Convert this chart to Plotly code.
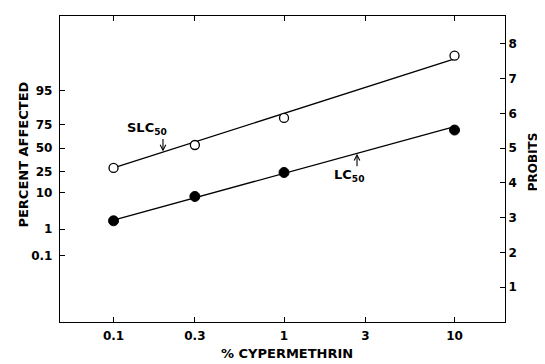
import math
from statistics import NormalDist
import plotly.graph_objects as go

# ---- data ----
conc = [0.1, 0.3, 1, 10]                      # % cypermethrin
slc_probit = [4.43, 5.09, 5.87, 7.66]         # SLC50 observations (open circles)
lc_probit = [2.91, 3.61, 4.30, 5.52]          # LC50 observations (filled circles)
fit_x = [0.1, 10]
slc_fit = [4.43, 7.57]
lc_fit = [2.93, 5.62]

x_ticks = [0.1, 0.3, 1, 3, 10]
x_ticktext = ["0.1", "0.3", "1", "3", "10"]
pct_ticks = [95, 75, 50, 25, 10, 1, 0.1]
pct_ticktext = ["95", "75", "50", "25", "10", "1", "0.1"]
probit_ticks = [1, 2, 3, 4, 5, 6, 7, 8]

pct_probit = [5 + NormalDist().inv_cdf(p / 100.0) for p in pct_ticks]

FONT = "DejaVu Sans"
tickfont = dict(family=FONT, size=12, color="black", weight="bold")

fig = go.Figure()
fig.add_trace(go.Scatter(x=fit_x, y=slc_fit, mode="lines",
                         line=dict(color="black", width=1.3), showlegend=False))
fig.add_trace(go.Scatter(x=fit_x, y=lc_fit, mode="lines",
                         line=dict(color="black", width=1.3), showlegend=False))
fig.add_trace(go.Scatter(x=conc, y=slc_probit, mode="markers",
                         marker=dict(symbol="circle", size=9, color="white",
                                     line=dict(color="black", width=1.3)),
                         showlegend=False))
fig.add_trace(go.Scatter(x=conc, y=lc_probit, mode="markers",
                         marker=dict(symbol="circle", size=10, color="black",
                                     line=dict(color="black", width=1)),
                         showlegend=False))
# invisible trace to activate the right-hand probit axis
fig.add_trace(go.Scatter(x=[conc[0]], y=[probit_ticks[0]], yaxis="y2", mode="markers",
                         marker=dict(opacity=0), showlegend=False, hoverinfo="skip"))

YR = [0, 8.8]
XR = [-1.314, 1.296]

# page body has an 8px margin: figure is shrunk/shifted to compensate
fig.update_layout(
    width=537, height=356,
    margin=dict(l=52, r=40, t=8, b=42),
    paper_bgcolor="white", plot_bgcolor="white",
    xaxis=dict(type="log", range=XR, tickvals=x_ticks, ticktext=x_ticktext,
               ticks="inside", ticklen=5, tickwidth=1, tickcolor="black",
               showline=True, linecolor="black", linewidth=1.4, mirror="ticks",
               showgrid=False, zeroline=False, tickfont=tickfont,
               ticklabelstandoff=2),
    yaxis=dict(range=YR, tickvals=pct_probit, ticktext=pct_ticktext,
               ticks="inside", ticklen=5, tickwidth=1, tickcolor="black",
               showline=True, linecolor="black", linewidth=1.4, mirror=True,
               showgrid=False, zeroline=False, tickfont=tickfont,
               ticklabelstandoff=4),
    yaxis2=dict(range=YR, overlaying="y", side="right", tickvals=probit_ticks,
                ticks="inside", ticklen=5, tickwidth=1, tickcolor="black",
                showline=True, linecolor="black", linewidth=1.4,
                showgrid=False, zeroline=False, tickfont=tickfont),
)

titlefont = dict(family=FONT, size=13, color="black", weight="bold")
probfont = dict(family=FONT, size=12, color="black", weight="bold")
labfont = dict(family=FONT, size=13, color="black", weight="bold")
ann = [
    dict(text="PERCENT AFFECTED", xref="paper", yref="paper", x=-0.081, y=0.547,
         textangle=-90, showarrow=False, font=titlefont, xanchor="center", yanchor="middle"),
    dict(text="PROBITS", xref="paper", yref="paper", x=1.062, y=0.524,
         textangle=-90, showarrow=False, font=probfont, xanchor="center", yanchor="middle"),
    dict(text="% CYPERMETHRIN", xref="paper", yref="paper", x=0.51, y=-0.104,
         showarrow=False, font=titlefont, xanchor="center", yanchor="middle"),
    dict(text="SLC<sub>50</sub>", x=-0.804, y=5.57, xref="x", yref="y",
         showarrow=False, font=labfont, xanchor="center", yanchor="middle"),
    dict(text="", x=-0.710, y=4.90, xref="x", yref="y", showarrow=True,
         ax=0, ay=-14, arrowhead=5, arrowsize=1, arrowwidth=1.1, arrowcolor="black"),
    dict(text="LC<sub>50</sub>", x=0.381, y=4.22, xref="x", yref="y",
         showarrow=False, font=labfont, xanchor="center", yanchor="middle"),
    dict(text="", x=0.428, y=4.84, xref="x", yref="y", showarrow=True,
         ax=0, ay=14, arrowhead=5, arrowsize=1, arrowwidth=1.1, arrowcolor="black"),
]
fig.update_layout(annotations=ann)

fig.write_html("out.html")
